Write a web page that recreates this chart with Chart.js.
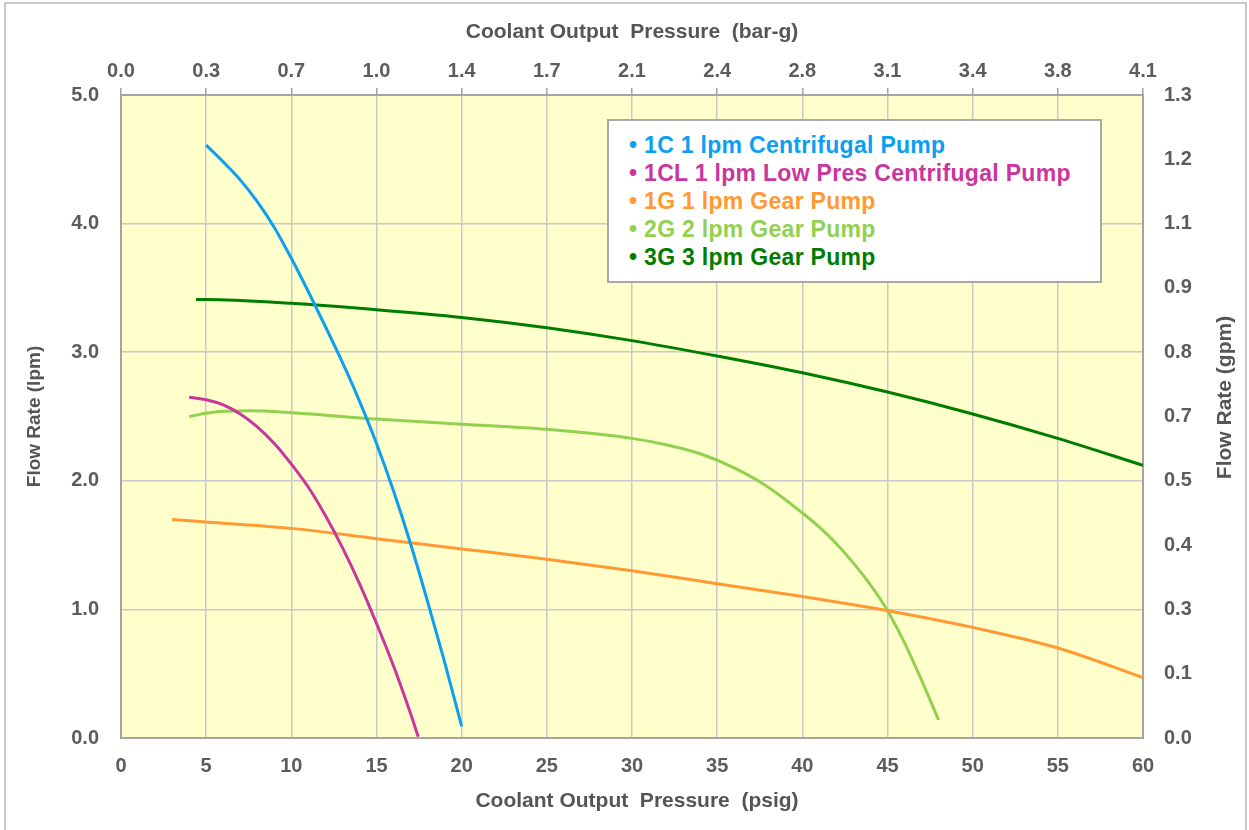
<!DOCTYPE html>
<html>
<head>
<meta charset="utf-8">
<script src="https://cdn.jsdelivr.net/npm/chart.js@4.4.1/dist/chart.umd.min.js"></script>
<style>
  html, body { margin: 0; padding: 0; background: #ffffff; overflow: hidden; }
  #wrap { position: relative; width: 1249px; height: 830px; }
  #frame { position: absolute; left: 4px; top: 2px; width: 1243px; height: 840px; border: 2px solid #c8c8c8; box-sizing: border-box; }
  #c { position: absolute; left: 0; top: 0; }
  #legend { position: absolute; left: 607px; top: 119px; width: 495px; height: 164px; box-sizing: border-box;
            border: 2px solid #a8a8a8; background: #ffffff; padding: 10px 0 0 20px;
            font: bold 23px "Liberation Sans", Arial, sans-serif; letter-spacing: 0.3px; }
  #legend div { height: 28px; line-height: 28px; white-space: nowrap; }
</style>
</head>
<body>
<div id="wrap">
  <div id="frame"></div>
  <canvas id="c" width="1249" height="830"></canvas>
  <div id="legend"></div>
</div>
<script>
// ---- data ----
const psiTicks = [0, 5, 10, 15, 20, 25, 30, 35, 40, 45, 50, 55, 60];
const barTickLabels = ['0.0','0.3','0.7','1.0','1.4','1.7','2.1','2.4','2.8','3.1','3.4','3.8','4.1'];
const lpmTickLabels = ['0.0','1.0','2.0','3.0','4.0','5.0'];
const gpmTickLabels = ['0.0','0.1','0.3','0.4','0.5','0.7','0.8','0.9','1.1','1.2','1.3'];

const seriesNames = ['1C 1 lpm Centrifugal Pump', '1CL 1 lpm Low Pres Centrifugal Pump', '1G 1 lpm Gear Pump', '2G 2 lpm Gear Pump', '3G 3 lpm Gear Pump'];
const seriesColors = ['#0a9ff0', '#c9369d', '#ff9933', '#92d050', '#007d00'];

const c1Psi = [5, 6, 7, 8, 9, 10, 11, 12, 13, 14, 15, 16, 17, 18, 19, 20];
const c1Lpm = [4.61, 4.48, 4.34, 4.17, 3.97, 3.73, 3.47, 3.20, 2.92, 2.62, 2.29, 1.92, 1.51, 1.06, 0.59, 0.09];

const cl1Psi = [4, 5, 6, 7, 8, 9, 10, 11, 12, 13, 14, 15, 16, 17, 17.45];
const cl1Lpm = [2.65, 2.63, 2.59, 2.52, 2.42, 2.29, 2.13, 1.95, 1.73, 1.48, 1.20, 0.89, 0.56, 0.19, 0.01];

const g1Psi = [3, 5, 10, 15, 20, 25, 30, 35, 40, 45, 50, 55, 60];
const g1Lpm = [1.70, 1.68, 1.63, 1.55, 1.47, 1.39, 1.30, 1.20, 1.10, 0.99, 0.86, 0.70, 0.47];

const g2Psi = [4, 5, 6, 7.5, 10, 15, 20, 25, 30, 32, 34, 36, 38, 40, 41, 42, 43, 44, 45, 46, 47, 48];
const g2Lpm = [2.50, 2.525, 2.54, 2.545, 2.53, 2.48, 2.44, 2.40, 2.33, 2.28, 2.21, 2.10, 1.95, 1.75, 1.64, 1.51, 1.36, 1.19, 0.99, 0.74, 0.45, 0.14];

const g3Psi = [4.4, 5, 10, 15, 20, 25, 30, 35, 40, 45, 50, 55, 60];
const g3Lpm = [3.41, 3.41, 3.38, 3.33, 3.27, 3.19, 3.09, 2.97, 2.84, 2.69, 2.52, 2.33, 2.12];

const seriesX = [c1Psi, cl1Psi, g1Psi, g2Psi, g3Psi];
const seriesY = [c1Lpm, cl1Lpm, g1Lpm, g2Lpm, g3Lpm];

// ---- build ----
const datasets = seriesNames.map((name, k) => ({
  label: name,
  data: seriesX[k].map((x, i) => ({ x: x, y: seriesY[k][i] })),
  borderColor: seriesColors[k],
  backgroundColor: seriesColors[k],
  borderWidth: 3,
  pointRadius: 0,
  cubicInterpolationMode: 'monotone',
  fill: false,
  xAxisID: 'x',
  yAxisID: 'y'
}));

const legendEl = document.getElementById('legend');
seriesNames.forEach((n, k) => {
  const d = document.createElement('div');
  d.style.color = seriesColors[k];
  d.textContent = '\u2022 ' + n;
  legendEl.appendChild(d);
});

const tickColor = '#5c5c5c';
const gridColor = '#c9c9c9';
const borderColor = '#a3a3a3';
const sans = '"Liberation Sans", Arial, sans-serif';

const bgPlugin = {
  id: 'bg',
  beforeDraw(chart) {
    const a = chart.chartArea, ctx = chart.ctx;
    ctx.save();
    ctx.fillStyle = '#ffffcc';
    ctx.fillRect(a.left, a.top, a.right - a.left, a.bottom - a.top);
    ctx.restore();
  }
};

const titlePlugin = {
  id: 'titles',
  afterDraw(chart) {
    const a = chart.chartArea, ctx = chart.ctx;
    const cx = (a.left + a.right) / 2, cy = (a.top + a.bottom) / 2;
    ctx.save();
    ctx.fillStyle = '#555555';
    ctx.textAlign = 'center';
    ctx.textBaseline = 'middle';
    ctx.font = 'bold 21px ' + sans;
    ctx.fillText('Coolant Output  Pressure  (bar-g)', cx, 32);
    ctx.fillText('Coolant Output  Pressure  (psig)', cx + 5, 801);
    ctx.font = 'bold 19px ' + sans;
    ctx.translate(35, cy);
    ctx.rotate(-Math.PI / 2);
    ctx.fillText('Flow Rate (lpm)', 0, 0);
    ctx.restore();
    ctx.save();
    ctx.fillStyle = '#555555';
    ctx.textAlign = 'center';
    ctx.textBaseline = 'middle';
    ctx.font = 'bold 21px ' + sans;
    ctx.translate(1225, cy - 19);
    ctx.rotate(-Math.PI / 2);
    ctx.fillText('Flow Rate (gpm)', 0, 0);
    ctx.restore();
  }
};

new Chart(document.getElementById('c'), {
  type: 'line',
  data: { datasets: datasets },
  plugins: [bgPlugin, titlePlugin],
  options: {
    responsive: false,
    animation: false,
    devicePixelRatio: 1,
    layout: { padding: 0 },
    plugins: { legend: { display: false }, tooltip: { enabled: false } },
    scales: {
      x: {
        type: 'linear', position: 'bottom', min: 0, max: 60,
        afterBuildTicks(s) { s.ticks = psiTicks.map(v => ({ value: v })); },
        afterFit(s) { s.height = 92; },
        ticks: { color: tickColor, font: { family: sans, size: 20, weight: 'bold' }, padding: 16, maxRotation: 0,
                 callback: (v) => String(v) },
        grid: { color: gridColor, lineWidth: 1.5, drawTicks: false },
        border: { color: borderColor, width: 2 }
      },
      x2: {
        type: 'linear', position: 'top', min: 0, max: 60,
        afterBuildTicks(s) { s.ticks = psiTicks.map(v => ({ value: v })); },
        afterFit(s) { s.height = 95; },
        ticks: { color: tickColor, font: { family: sans, size: 20, weight: 'bold' }, padding: 5, maxRotation: 0,
                 callback: (v, i) => barTickLabels[i] },
        grid: { color: borderColor, lineWidth: 1.5, drawOnChartArea: false, drawTicks: true, tickLength: 7 },
        border: { color: borderColor, width: 2 }
      },
      y: {
        type: 'linear', position: 'left', min: 0, max: 5,
        afterBuildTicks(s) { s.ticks = lpmTickLabels.map(t => ({ value: parseFloat(t) })); },
        afterFit(s) { s.width = 121; },
        ticks: { color: tickColor, font: { family: sans, size: 20, weight: 'bold' }, padding: 22,
                 callback: (v, i) => lpmTickLabels[i] },
        grid: { color: gridColor, lineWidth: 1.5, drawTicks: false },
        border: { color: borderColor, width: 2 }
      },
      y2: {
        type: 'linear', position: 'right', min: 0, max: 5,
        afterBuildTicks(s) { s.ticks = gpmTickLabels.map((t, i) => ({ value: i * 0.5 })); },
        afterFit(s) { s.width = 106; },
        ticks: { color: tickColor, font: { family: sans, size: 20, weight: 'bold' }, padding: 21,
                 callback: (v, i) => gpmTickLabels[i] },
        grid: { drawOnChartArea: false, drawTicks: false },
        border: { color: borderColor, width: 2 }
      }
    }
  }
});
</script>
</body>
</html>
